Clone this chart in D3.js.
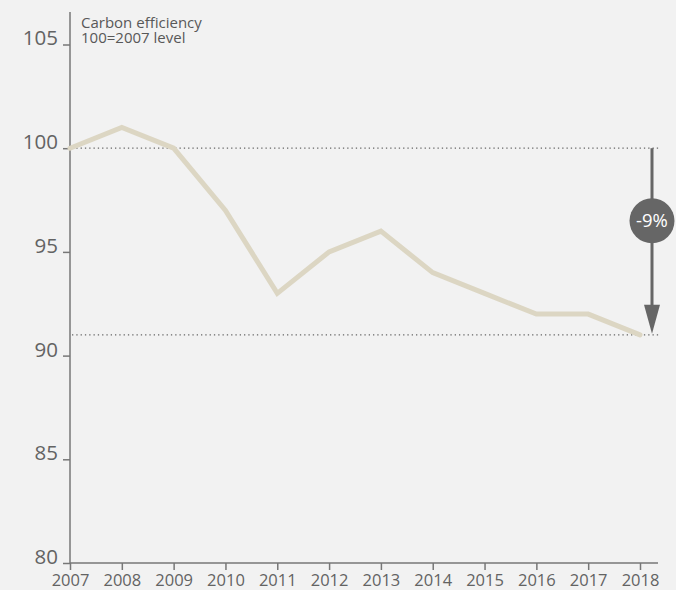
<!DOCTYPE html>
<html lang="en">
<head>
    <meta charset="UTF-8">
    <title>Carbon efficiency</title>
    <script src="https://cdn.jsdelivr.net/npm/d3@7"></script>
    <style>
        body { margin: 0; background: #f2f2f2; }
        svg { display: block; }
        svg text { font-family: "Open Sans", sans-serif; }
        .axis path, .axis line { stroke: #777; stroke-width: 1.5px; }
        .axis text { fill: #636363; font-family: "Open Sans", sans-serif; }
    </style>
</head>
<body>
    <script>
        // data
        var years = [2007, 2008, 2009, 2010, 2011, 2012, 2013, 2014, 2015, 2016, 2017, 2018];
        var values = [100, 101, 100, 97, 93, 95, 96, 94, 93, 92, 92, 91];
        var yTicks = [80, 85, 90, 95, 100, 105];
        var titleLines = ["Carbon efficiency", "100=2007 level"];
        var changeLabel = "-9%";

        var width = 676, height = 590;

        var svg = d3.select("body").append("svg")
            .attr("width", width)
            .attr("height", height);

        svg.append("rect").attr("width", width).attr("height", height).attr("fill", "#f2f2f2");

        var x = d3.scaleLinear().domain([2007, 2018]).range([70, 640]);
        var y = d3.scaleLinear().domain([80, 105]).range([563, 44.5]);

        // y axis
        var yAxis = svg.append("g")
            .attr("class", "axis")
            .attr("transform", "translate(70,0)")
            .call(d3.axisLeft(y).tickValues(yTicks).tickSize(7).tickPadding(5));
        yAxis.select(".domain").attr("d", "M0,12V563");
        yAxis.selectAll("text").attr("font-size", "20.5px").attr("dy", "0.02em");

        // x axis
        var xAxis = svg.append("g")
            .attr("class", "axis")
            .attr("transform", "translate(0,563)")
            .call(d3.axisBottom(x).tickValues(years).tickFormat(d3.format("d")).tickSize(7).tickPadding(4));
        xAxis.select(".domain").attr("d", "M70,0H658");
        xAxis.selectAll("text").attr("font-size", "16.5px");

        // title
        svg.selectAll(".title")
            .data(titleLines)
            .enter()
            .append("text")
            .attr("class", "title")
            .attr("x", 81)
            .attr("y", function(d, i) { return 27.5 + i * 15.5; })
            .attr("fill", "#585858")
            .attr("font-size", "15px")
            .text(function(d) { return d; });

        // reference lines at start and end
        var startV = values[0], endV = values[values.length - 1];
        [startV, endV].forEach(function(v) {
            svg.append("line")
                .attr("x1", 72).attr("x2", 660)
                .attr("y1", y(v)).attr("y2", y(v))
                .attr("stroke", "#666")
                .attr("stroke-width", 1.3)
                .attr("stroke-dasharray", "1.3,3");
        });

        // main line
        var line = d3.line()
            .x(function(d, i) { return x(years[i]); })
            .y(function(d) { return y(d); });

        svg.append("path")
            .datum(values)
            .attr("d", line)
            .attr("fill", "none")
            .attr("stroke", "#dcd6c3")
            .attr("stroke-width", 5)
            .attr("stroke-linecap", "round")
            .attr("stroke-linejoin", "miter");

        // arrow
        var ax = 652;
        svg.append("line")
            .attr("x1", ax).attr("x2", ax)
            .attr("y1", y(startV)).attr("y2", y(endV) - 20)
            .attr("stroke", "#666")
            .attr("stroke-width", 3);
        svg.append("path")
            .attr("d", "M" + (ax - 8) + "," + (y(endV) - 30) + "L" + (ax + 8) + "," + (y(endV) - 30) + "L" + ax + "," + (y(endV) - 1) + "Z")
            .attr("fill", "#666");

        var cy = y(96.5);
        svg.append("circle")
            .attr("cx", ax).attr("cy", cy).attr("r", 22.5)
            .attr("fill", "#666");
        svg.append("text")
            .attr("x", ax).attr("y", cy)
            .attr("text-anchor", "middle")
            .attr("dy", "0.36em")
            .attr("fill", "#fff")
            .attr("font-size", "18.5px")
            .text(changeLabel);
    </script>
</body>
</html>
